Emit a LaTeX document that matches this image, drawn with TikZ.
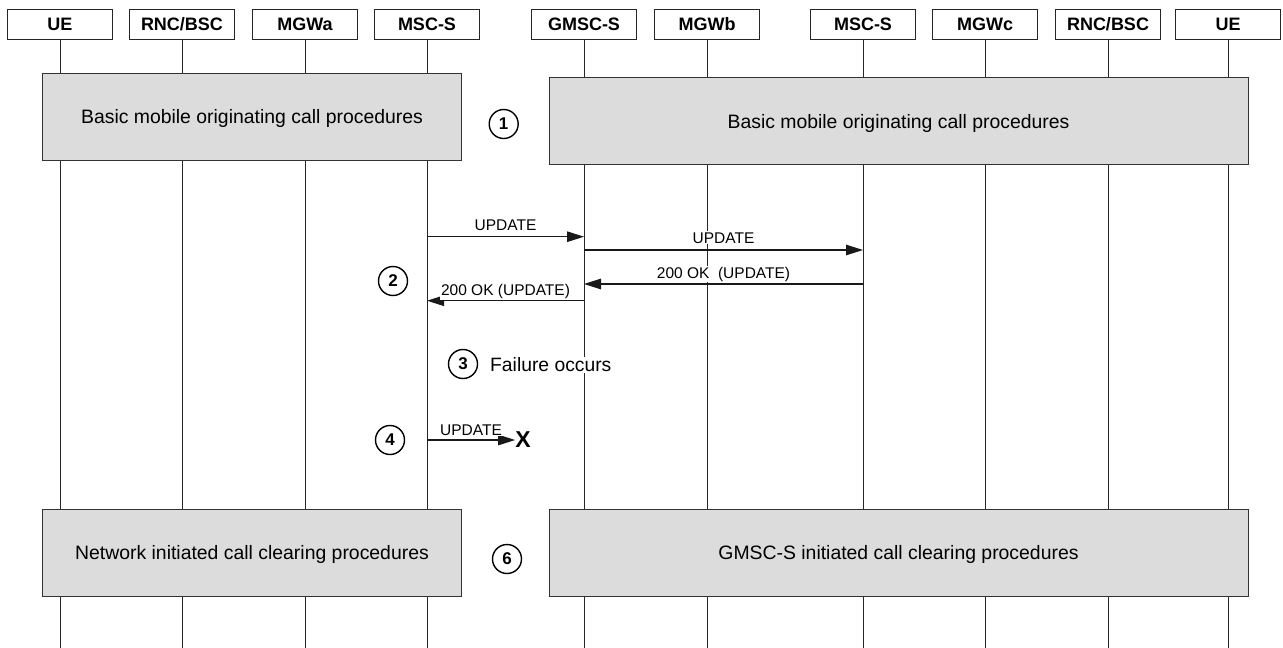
\documentclass[tikz,border=0pt]{standalone}
\usepackage{fontspec}
\setmainfont{Liberation Sans}
\usetikzlibrary{arrows.meta}
\definecolor{procgray}{HTML}{DCDCDC}
\begin{document}
\begin{tikzpicture}[x=1pt,y=-1pt,
  head/.style={draw=black!85, line width=0.9pt, minimum width=105pt, minimum height=29.7pt, inner sep=0pt,
    font=\fontsize{18}{20}\selectfont\bfseries, text height=12.9pt, text depth=0pt},
  life/.style={draw=black!85, line width=1pt},
  proc/.style={draw=black!80, fill=procgray, line width=1pt, inner sep=0pt,
    font=\fontsize{19.4}{22}\selectfont, text height=13.9pt, text depth=0pt},
  msg/.style={draw=black!90, line width=1.2pt, -{Triangle[length=17pt,width=10.5pt]}},
  lbl/.style={fill=white, inner sep=1pt, font=\fontsize{15.5}{18}\selectfont, anchor=base},
  num/.style={circle, draw=black, line width=1.4pt, minimum size=29pt, inner sep=0pt,
    font=\fontsize{17}{19}\selectfont\bfseries}
]
\fill[white] (0,0) rectangle (1283,648);
\useasboundingbox (0,0) rectangle (1283,648);

% headers
\node[head] (h1)  at (60,24.2)   {UE};
\node[head] (h2)  at (182,24.2)  {RNC/BSC};
\node[head] (h3)  at (305,24.2)  {MGWa};
\node[head] (h4)  at (427,24.2)  {MSC-S};
\node[head] (h5)  at (584,24.2)  {GMSC-S};
\node[head] (h6)  at (707,24.2)  {MGWb};
\node[head] (h7)  at (863,24.2)  {MSC-S};
\node[head] (h8)  at (985,24.2)  {MGWc};
\node[head] (h9)  at (1108,24.2) {RNC/BSC};
\node[head] (h10) at (1228,24.2) {UE};

% lifelines
\foreach \i/\x in {1/60,2/182,3/305,4/427,5/584,6/707,7/863,8/985,9/1108,10/1228}{
  \coordinate (e\i) at (\x,648);
  \draw[life] (h\i.south) -- (e\i);
}

% procedure boxes
\node[proc, minimum width=419pt, minimum height=86.7pt] (p1) at (252,116.7) {Basic mobile originating call procedures};
\node[proc, minimum width=699pt, minimum height=87.3pt] (p2) at (898.5,121.3) {Basic mobile originating call procedures};
\node[proc, minimum width=419pt, minimum height=87.4pt] (p3) at (252,553) {Network initiated call clearing procedures};
\node[proc, minimum width=699pt, minimum height=87.4pt] (p4) at (898.5,553) {GMSC-S initiated call clearing procedures};

% step numbers
\node[num] (n1) at (503.7,124) {1};
\node[num] (n2) at (393,281) {2};
\node[num] (n3) at (463,364) {3};
\node[num] (n4) at (390,440) {4};
\node[num] (n6) at (507,559) {6};

% messages
\coordinate (a1) at (427,236.7); \coordinate (b1) at (584,236.7);
\draw[msg] (a1) -- node[lbl, yshift=6.7pt] (l1) {UPDATE} (b1);
\coordinate (a2) at (584,250); \coordinate (b2) at (863,250);
\draw[msg] (a2) -- node[lbl, yshift=7pt] (l2) {UPDATE} (b2);
\coordinate (a3) at (863,284); \coordinate (b3) at (584,284);
\draw[msg] (a3) -- node[lbl, yshift=6pt] (l3) {200 OK\ \ (UPDATE)} (b3);
\coordinate (a4) at (584,300.7); \coordinate (b4) at (427,300.7);
\draw[msg] (a4) -- node[lbl, yshift=5.2pt] (l4) {200 OK (UPDATE)} (b4);

% failure
\node[fill=white, inner sep=1pt, anchor=base west, font=\fontsize{19.3}{22}\selectfont] (fail) at (489,371.5) {Failure occurs};

\node[inner sep=0pt, font=\fontsize{23}{25}\selectfont\bfseries] (x) at (523,440) {X};
\coordinate (a5) at (427,440);
\draw[msg] (a5) -- node[lbl, yshift=5pt] (l5) {UPDATE} (x.west);
\end{tikzpicture}
\end{document}
